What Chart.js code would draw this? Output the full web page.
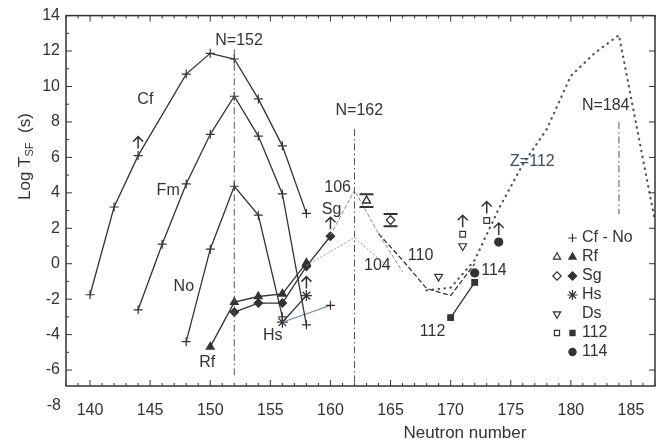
<!DOCTYPE html>
<html>
<head>
<meta charset="utf-8">
<script src="https://cdn.jsdelivr.net/npm/chart.js@4/dist/chart.umd.min.js"></script>
<style>
html, body { margin: 0; padding: 0; background: #fff; }
</style>
</head>
<body>
<canvas id="c" width="662" height="446"></canvas>
<script>
// measured log T_SF (s) vs neutron number
const cfN = [140, 142, 144, 148, 150, 152, 154, 156, 158];
const cfT = [-1.75, 3.2, 6.1, 10.7, 11.87, 11.55, 9.3, 6.65, 2.84];
const fmN = [144, 146, 148, 150, 152, 154, 156, 158];
const fmT = [-2.6, 1.1, 4.5, 7.3, 9.45, 7.2, 3.94, -3.45];
const noN = [148, 150, 152, 154, 156];
const noT = [-4.4, 0.82, 4.37, 2.74, -3.0];
const rfN = [150, 152, 154, 156, 158];
const rfT = [-4.69, -2.17, -1.85, -1.7, 0.05];
const sgN = [152, 154, 156, 158, 160];
const sgT = [-2.73, -2.22, -2.22, -0.15, 1.55];
const hsN = [156, 158];
const hsT = [-3.3, -1.8];
const hsCalcN = [156, 160];
const hsCalcT = [-3.3, -2.35];
const rfOpenN = [163];
const rfOpenT = [3.56];
const rfOpenErr = [0.36];
const sgOpenN = [165];
const sgOpenT = [2.46];
const sgOpenErr = [0.34];
const dsN = [169, 171];
const dsT = [-0.73, 1.0];
const e112OpenN = [171, 173];
const e112OpenT = [1.66, 2.44];
const e112N = [170, 172];
const e112T = [-3.04, -1.05];
const e114N = [172, 174];
const e114T = [-0.52, 1.22];
// lower limits (drawn with an up arrow)
const limitN = [144, 158, 160, 171, 173, 174];
const limitT = [6.1, -1.8, 1.55, 1.66, 2.44, 1.22];

// calculated curves
const z104N = [158, 162, 165];
const z104T = [-0.1, 1.47, -0.3];
const z106N = [160, 162, 164, 166];
const z106T = [1.6, 4.15, 1.7, -0.45];
const z110N = [164, 166, 168, 170, 172];
const z110T = [1.7, 0.2, -1.4, -1.8, 0.0];
const z112N = [168, 170, 172, 174, 176, 178, 180, 182, 184, 187];
const z112T = [-1.5, -1.35, 0.2, 3.1, 5.6, 7.6, 10.6, 11.9, 12.9, 2.4];

// shell closures
const shellN = [152, 162, 184];
const shellTop = [12.1, 7.6, 8.0];
const shellBottom = [-6.3, -6.9, 2.8];

const xTicks = [140, 145, 150, 155, 160, 165, 170, 175, 180, 185];
const yTicks = [-6, -4, -2, 0, 2, 4, 6, 8, 10, 12, 14];

const INK = '#333';
const FONT = '"Liberation Sans", Arial, sans-serif';

function xy(ns, ts) {
    return ns.map((n, i) => ({ x: n, y: ts[i] }));
}

function series(ns, ts, o) {
    return Object.assign({
        data: xy(ns, ts),
        showLine: true,
        borderColor: INK,
        borderWidth: 1.3,
        pointRadius: 4,
        pointHoverRadius: 4,
        pointStyle: 'circle',
        pointBackgroundColor: INK,
        pointBorderColor: INK,
        pointBorderWidth: 1.2,
        tension: 0
    }, o);
}

const datasets = [];
// theory curves first
datasets.push(series(z104N, z104T, { borderColor: '#999', borderWidth: 1, borderDash: [2, 2], pointRadius: 0 }));
datasets.push(series(z106N, z106T, { borderColor: '#888', borderWidth: 1, borderDash: [4, 2], pointRadius: 0 }));
datasets.push(series(z110N, z110T, { borderColor: '#333', borderWidth: 1.3, borderDash: [5, 2.5], pointRadius: 0 }));
datasets.push(series(z112N, z112T, { borderColor: '#555', borderWidth: 2.2, borderDash: [0.5, 5.5], borderCapStyle: 'round', pointRadius: 0 }));
shellN.forEach((n, i) => {
    datasets.push(series([n, n], [shellTop[i], shellBottom[i]], { borderColor: '#555', borderWidth: 1, borderDash: [7, 3, 1.5, 3], pointRadius: 0 }));
});
// measured data
datasets.push(series(cfN, cfT, { pointStyle: 'cross', pointRadius: 4.5 }));
datasets.push(series(fmN, fmT, { pointStyle: 'cross', pointRadius: 4.5 }));
datasets.push(series(noN, noT, { pointStyle: 'cross', pointRadius: 4.5 }));
datasets.push(series(hsCalcN, hsCalcT, { borderColor: '#6f8fb5', borderWidth: 1.2, pointStyle: 'cross', pointRadius: [0, 4.5] }));
datasets.push(series(rfN, rfT, { pointStyle: 'triangle', pointRadius: 4.5 }));
datasets.push(series(sgN, sgT, { pointStyle: 'rectRot', pointRadius: 4.2 }));
datasets.push(series(hsN, hsT, { pointStyle: 'star', pointRadius: 5.5, pointBorderWidth: 1.3 }));
datasets.push(series(e112N, e112T, { pointStyle: 'rect', pointRadius: 4 }));
datasets.push(series(e114N, e114T, { showLine: false, pointStyle: 'circle', pointRadius: 4 }));
datasets.push(series(rfOpenN, rfOpenT, { showLine: false, pointStyle: 'triangle', pointRadius: 4.5, pointBackgroundColor: '#fff' }));
datasets.push(series(sgOpenN, sgOpenT, { showLine: false, pointStyle: 'rectRot', pointRadius: 4.2, pointBackgroundColor: '#fff' }));
datasets.push(series(dsN, dsT, { showLine: false, pointStyle: 'triangle', pointRotation: 180, pointRadius: 4.5, pointBackgroundColor: '#fff' }));
datasets.push(series(e112OpenN, e112OpenT, { showLine: false, pointStyle: 'rect', pointRadius: 4, pointBackgroundColor: '#fff' }));

// text notes in the plot (neutron number, log T)
const notes = [
    ['Cf', 144.6, 9.25], ['Fm', 146.5, 4.14], ['No', 147.8, -1.27], ['Rf', 149.75, -5.6],
    ['Hs', 155.2, -4.03], ['Sg', 160.1, 3.06], ['106', 160.6, 4.3], ['104', 163.9, -0.1],
    ['110', 167.5, 0.45], ['114', 173.6, -0.39], ['112', 168.5, -3.85],
    ['N=152', 152.4, 12.6], ['N=162', 162.4, 8.66], ['N=184', 182.9, 8.94], ['Z=112', 176.8, 5.77]
];

const legendRows = [
    { text: 'Cf - No', open: null, filled: 'cross' },
    { text: 'Rf', open: 'triangle', filled: 'triangle' },
    { text: 'Sg', open: 'rectRot', filled: 'rectRot' },
    { text: 'Hs', open: null, filled: 'star' },
    { text: 'Ds', open: 'triangleDown', filled: null },
    { text: '112', open: 'rect', filled: 'rect' },
    { text: '114', open: null, filled: 'circle' }
];

function mark(ctx, style, x, y, r, fill) {
    let rot = 0;
    if (style === 'triangleDown') { style = 'triangle'; rot = 180; }
    ctx.fillStyle = fill;
    ctx.strokeStyle = INK;
    ctx.lineWidth = 1.2;
    Chart.helpers.drawPoint(ctx, { pointStyle: style, radius: r, rotation: rot, borderWidth: 1.2 }, x, y);
}

const deco = {
    id: 'deco',
    afterDatasetsDraw(chart) {
        const { ctx, chartArea: a, scales: { x, y } } = chart;
        ctx.save();
        ctx.strokeStyle = INK;
        ctx.fillStyle = INK;

        // frame
        ctx.lineWidth = 1.5;
        ctx.strokeRect(a.left, a.top, a.right - a.left, a.bottom - a.top);

        // inward ticks
        ctx.lineWidth = 1;
        ctx.beginPath();
        for (let n = 138; n <= 187; n++) {
            const px = x.getPixelForValue(n);
            const L = n % 5 === 0 ? 6 : 3;
            ctx.moveTo(px, a.bottom); ctx.lineTo(px, a.bottom - L);
            ctx.moveTo(px, a.top); ctx.lineTo(px, a.top + L);
        }
        for (let v = -6; v <= 14; v++) {
            const py = y.getPixelForValue(v);
            const major = v % 2 === 0;
            ctx.moveTo(a.left, py); ctx.lineTo(a.left + (major ? 6 : 3), py);
            if (major) { ctx.moveTo(a.right, py); ctx.lineTo(a.right - 6, py); }
        }
        ctx.stroke();

        // horizontal error bars
        ctx.lineWidth = 2;
        const bars = [[rfOpenN, rfOpenT, rfOpenErr], [sgOpenN, sgOpenT, sgOpenErr]];
        bars.forEach(([ns, ts, es]) => {
            ns.forEach((n, i) => {
                const px = x.getPixelForValue(n);
                const hi = y.getPixelForValue(ts[i] + es[i]);
                const lo = y.getPixelForValue(ts[i] - es[i]);
                ctx.beginPath();
                ctx.moveTo(px - 7, hi); ctx.lineTo(px + 7, hi);
                ctx.moveTo(px - 7, lo); ctx.lineTo(px + 7, lo);
                ctx.stroke();
            });
        });
        mark(ctx, 'triangle', x.getPixelForValue(rfOpenN[0]), y.getPixelForValue(rfOpenT[0]), 4.5, '#fff');
        mark(ctx, 'rectRot', x.getPixelForValue(sgOpenN[0]), y.getPixelForValue(sgOpenT[0]), 4.2, '#fff');

        // up arrows for lower limits
        ctx.lineWidth = 1.5;
        ctx.strokeStyle = INK;
        limitN.forEach((n, i) => {
            const px = x.getPixelForValue(n);
            const py = y.getPixelForValue(limitT[i]);
            ctx.beginPath();
            ctx.moveTo(px, py - 7); ctx.lineTo(px, py - 19);
            ctx.moveTo(px - 5, py - 14); ctx.lineTo(px, py - 19); ctx.lineTo(px + 5, py - 14);
            ctx.stroke();
        });

        // notes
        ctx.font = '16px ' + FONT;
        ctx.textAlign = 'center';
        ctx.textBaseline = 'middle';
        notes.forEach(([t, n, v]) => {
            ctx.fillStyle = t === 'Z=112' ? '#3f4a63' : INK;
            ctx.fillText(t, x.getPixelForValue(n), y.getPixelForValue(v));
        });

        // stray -8 tick label below the frame
        ctx.fillStyle = INK;
        ctx.textAlign = 'right';
        ctx.fillText('-8', a.left - 5, y.getPixelForValue(-8));

        // legend
        const lx = 582, ly = 238, dy = 19;
        legendRows.forEach((r, i) => {
            const yy = ly + i * dy;
            if (r.open) mark(ctx, r.open, 557, yy, r.open === 'rect' ? 3.6 : 4.2, '#fff');
            if (r.filled) mark(ctx, r.filled, 572.5, yy, r.filled === 'star' ? 5 : (r.filled === 'rect' ? 3.6 : (r.filled === 'circle' ? 3.6 : 4.2)), INK);
            ctx.fillStyle = INK;
            ctx.font = '16px ' + FONT;
            ctx.textAlign = 'left';
            ctx.textBaseline = 'middle';
            ctx.fillText(r.text, lx, yy);
        });

        // axis titles
        ctx.font = '17px ' + FONT;
        ctx.textAlign = 'center';
        ctx.fillText('Neutron number', 465, 433);

        ctx.translate(25, 200);
        ctx.rotate(-Math.PI / 2);
        ctx.textAlign = 'left';
        ctx.font = '17px ' + FONT;
        let cx = 0;
        ctx.fillText('Log T', cx, 0);
        cx += ctx.measureText('Log T').width;
        ctx.font = '11px ' + FONT;
        ctx.fillText('SF', cx, 5);
        cx += ctx.measureText('SF').width;
        ctx.font = '17px ' + FONT;
        ctx.fillText('  (s)', cx, 0);
        ctx.restore();
    }
};

new Chart(document.getElementById('c'), {
    type: 'scatter',
    data: { datasets: datasets },
    options: {
        responsive: false,
        devicePixelRatio: 1,
        animation: false,
        events: [],
        layout: { padding: { left: 0, top: 14, right: 7, bottom: 0 } },
        plugins: { legend: { display: false }, tooltip: { enabled: false } },
        scales: {
            x: {
                type: 'linear', min: 138, max: 187,
                grid: { display: false, drawTicks: false },
                border: { display: false },
                afterBuildTicks: s => { s.ticks = xTicks.map(v => ({ value: v })); },
                afterFit: s => { s.height = 60; },
                ticks: { color: INK, font: { size: 16, family: FONT }, padding: 15, maxRotation: 0, autoSkip: false }
            },
            y: {
                type: 'linear', min: -6.9, max: 14,
                grid: { display: false, drawTicks: false },
                border: { display: false },
                afterBuildTicks: s => { s.ticks = yTicks.map(v => ({ value: v })); },
                afterFit: s => { s.width = 66; },
                ticks: { color: INK, font: { size: 16, family: FONT }, padding: 6 }
            }
        }
    },
    plugins: [deco]
});
</script>
</body>
</html>
